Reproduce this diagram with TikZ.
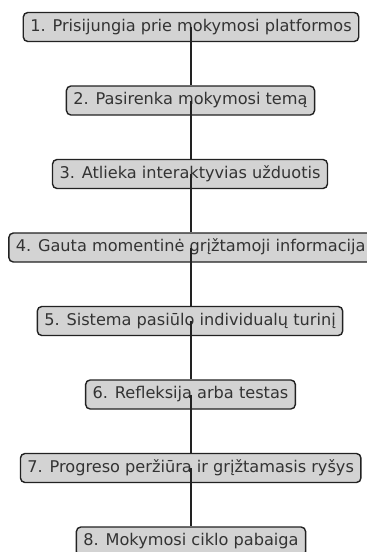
\documentclass[tikz,border=0pt]{standalone}
\usepackage{fontspec}
\setmainfont{DejaVu Sans}
\definecolor{boxfill}{HTML}{D3D3D3}
\definecolor{boxline}{HTML}{222222}
\definecolor{txt}{HTML}{333333}
\begin{document}
\begin{tikzpicture}[x=1pt,y=-1pt,
  stepbox/.style={draw=boxline, fill=boxfill, line width=1.4pt, rounded corners=4.5pt,
    minimum height=29pt, inner xsep=7pt, inner ysep=0pt, text=txt,
    text height=12pt, text depth=3.5pt,
    font=\fontsize{16.15}{19}\selectfont},
  link/.style={draw=boxline, line width=1.6pt}]
\useasboundingbox (0,0) rectangle (367,552);
\clip (0,0) rectangle (367,552);
\node[stepbox] (n1) at (191,27) {1. Prisijungia prie mokymosi platformos};
\node[stepbox] (n2) at (190.5,100.5) {2. Pasirenka mokymosi temą};
\node[stepbox] (n3) at (190,174) {3. Atlieka interaktyvias užduotis};
\node[stepbox] (n4) at (190.7,247.5) {4. Gauta momentinė grįžtamoji informacija};
\node[stepbox] (n5) at (190,321) {5. Sistema pasiūlo individualų turinį};
\node[stepbox] (n6) at (190.5,394.5) {6. Refleksija arba testas};
\node[stepbox] (n7) at (190.7,468) {7. Progreso peržiūra ir grįžtamasis ryšys};
\node[stepbox] (n8) at (191,541.5) {8. Mokymosi ciklo pabaiga};
\draw[link] (n1.center -| 190.7,0) -- (n2.north -| 190.7,0);
\draw[link] (n2.center -| 190.7,0) -- (n3.north -| 190.7,0);
\draw[link] (n3.center -| 190.7,0) -- (n4.north -| 190.7,0);
\draw[link] (n4.center -| 190.7,0) -- (n5.north -| 190.7,0);
\draw[link] (n5.center -| 190.7,0) -- (n6.north -| 190.7,0);
\draw[link] (n6.center -| 190.7,0) -- (n7.north -| 190.7,0);
\draw[link] (n7.center -| 190.7,0) -- (n8.north -| 190.7,0);
\end{tikzpicture}
\end{document}
